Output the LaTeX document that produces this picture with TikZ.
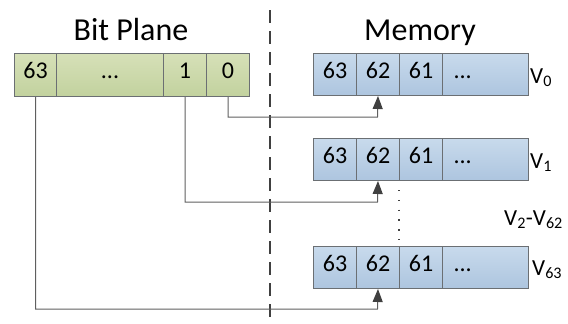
\documentclass[tikz,border=0pt]{standalone}
\usepackage{fontspec}
\setmainfont{Carlito}
\usetikzlibrary{arrows.meta}
\definecolor{gtop}{HTML}{D6E0B8}
\definecolor{gbot}{HTML}{C2D29E}
\definecolor{btop}{HTML}{C8DAEC}
\definecolor{bbot}{HTML}{ADC5DF}
\definecolor{edgegray}{HTML}{6B6F73}
\definecolor{linegray}{HTML}{5F5F5F}
\definecolor{tipgray}{HTML}{404040}
\tikzset{
  cell/.style={draw=edgegray, line width=1pt, inner sep=0pt, anchor=north west,
    font=\fontsize{24}{28}\selectfont, text height=15pt, text depth=8pt},
  gcell/.style={cell, top color=gtop, bottom color=gbot, minimum height=43pt},
  bcell/.style={cell, top color=btop, bottom color=bbot, minimum height=42pt},
  title/.style={font=\fontsize{32}{36}\selectfont, inner sep=0pt, anchor=base},
  vlabel/.style={font=\fontsize{23}{27}\selectfont, inner sep=0pt, anchor=base west},
  conn/.style={draw=linegray, line width=1pt},
  arr/.style={conn, -{Triangle[length=13pt,width=10pt,color=tipgray]}},
}
\begin{document}
\begin{tikzpicture}[x=1pt,y=-1pt]
\useasboundingbox (0,0) rectangle (568,324);
% divider
\draw[tipgray, line width=1.5pt, dash pattern=on 13pt off 8pt] (270,10) -- (270,324);
% titles
\node[title] (tbp) at (131,40) {Bit Plane};
\node[title] (tmem) at (420,40) {Memory};
% bit plane
\node[gcell, minimum width=42pt] (b63) at (14,53) {63};
\node[gcell, minimum width=107pt] (bdots) at (56,53) {...};
\node[gcell, minimum width=43pt] (b1) at (163,53) {1};
\node[gcell, minimum width=43pt] (b0) at (206,53) {0};
% memory rows
\foreach \r/\y in {0/53, 1/138, 63/246} {
  \node[bcell, minimum width=43pt] (m\r a) at (313,\y) {63};
  \node[bcell, minimum width=43pt] (m\r b) at (356,\y) {62};
  \node[bcell, minimum width=43pt] (m\r c) at (399,\y) {61};
  \node[bcell, minimum width=86pt, text width=64pt, align=left] (m\r d) at (442,\y) {...};
}
% labels
\node[vlabel] (l0) at (530,83) {V\textsubscript{0}};
\node[vlabel] (l1) at (530,168) {V\textsubscript{1}};
\node[vlabel] (l2) at (504,225) {V\textsubscript{2}-V\textsubscript{62}};
\node[vlabel] (l63) at (532,275) {V\textsubscript{63}};
% dotted
\coordinate (dA) at (399,190);
\coordinate (dB) at (399,241);
\draw[tipgray, line width=1.3pt, dash pattern=on 1.3pt off 8.5pt] (dA) -- (dB);
% connectors
\coordinate (j0) at (377.5,117);
\coordinate (j1) at (377.5,202);
\coordinate (j63) at (377.5,309);
\draw[arr] (b0.south) |- (j0) -- (m0b.south);
\draw[arr] (b1.south) |- (j1) -- (m1b.south);
\draw[arr] (b63.south) |- (j63) -- (m63b.south);
\end{tikzpicture}
\end{document}
